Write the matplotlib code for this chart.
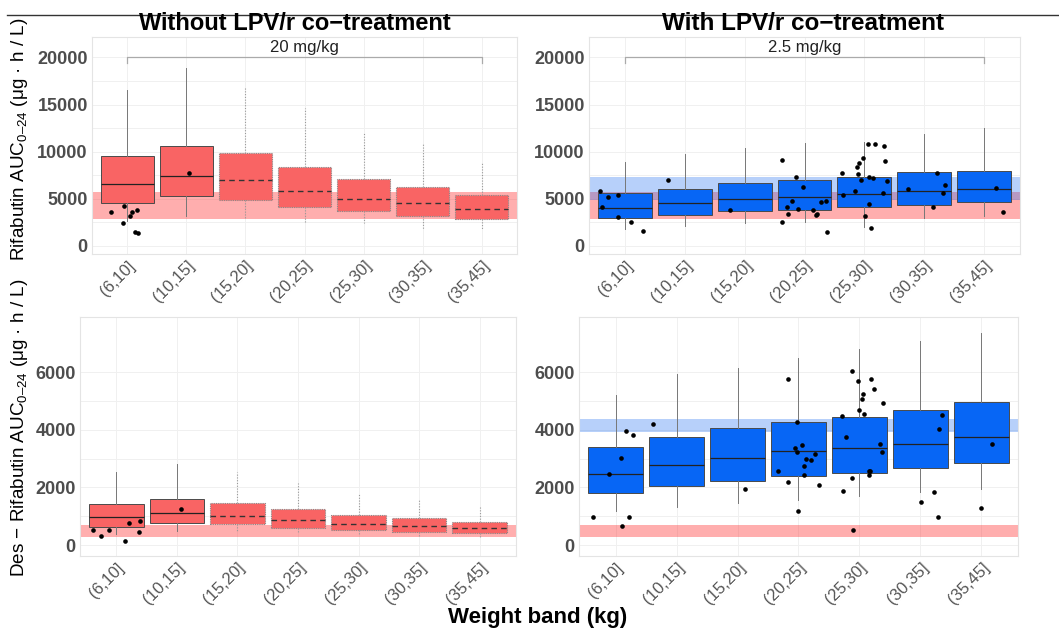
import matplotlib
matplotlib.use("Agg")
import matplotlib.pyplot as plt
from matplotlib.lines import Line2D

plt.rcParams['font.family'] = ['Liberation Sans', 'DejaVu Sans']
plt.rcParams['mathtext.fontset'] = 'custom'
plt.rcParams['mathtext.rm'] = 'Liberation Sans'

bands = ['(6,10]', '(10,15]', '(15,20]', '(20,25]', '(25,30]', '(30,35]', '(35,45]']

# rifabutin AUC, without LPV/r (20 mg/kg): q1, median, q3, whisker low, whisker high
rif_no_q1 = [4570, 5250, 4850, 4140, 3650, 3150, 2800]
rif_no_med = [6550, 7400, 6950, 5840, 4990, 4540, 3870]
rif_no_q3 = [9490, 10590, 9880, 8330, 7080, 6200, 5420]
rif_no_lo = [2650, 3150, 2910, 2520, 2380, 1800, 1800]
rif_no_hi = [16540, 18840, 16820, 14660, 12000, 10800, 8920]
rif_no_obs_x = [0.73, 0.94, 1.07, 1.05, 1.16, 0.93, 1.13, 1.18, 2.05]
rif_no_obs_y = [3550, 4250, 3550, 3120, 3760, 2380, 1490, 1380, 7690]

# rifabutin AUC, with LPV/r (2.5 mg/kg)
rif_lpv_q1 = [2910, 3290, 3650, 3820, 4140, 4320, 4610]
rif_lpv_med = [4040, 4500, 4930, 5170, 5490, 5810, 6020]
rif_lpv_q3 = [5570, 5990, 6630, 6980, 7260, 7800, 7970]
rif_lpv_lo = [1740, 2090, 2380, 2550, 1950, 2910, 3150]
rif_lpv_hi = [8890, 9710, 10340, 10880, 11050, 11830, 12470]
rif_lpv_obs_x = [0.59, 0.72, 0.62, 0.89, 0.89, 1.10, 1.30, 1.72, 2.76,
                 3.62, 3.85, 3.97, 3.79, 3.70, 3.72, 3.89, 4.14, 4.19, 4.21, 4.28, 4.36, 4.38, 3.62,
                 4.63, 4.88, 4.91, 4.98, 4.90, 4.95, 5.07, 5.14, 5.06, 5.17, 5.32, 5.35, 5.38,
                 4.84, 4.64, 5.31, 5.07, 5.01, 5.11,
                 5.73, 6.21, 6.35, 6.32, 6.15, 7.20, 7.32]
rif_lpv_obs_y = [5810, 5170, 4080, 5380, 3080, 2550, 1530, 6980, 3820,
                 9070, 7260, 6270, 4750, 4110, 3370, 3930, 3820, 3260, 3400, 4640, 4750, 1420, 2520,
                 7690, 8390, 8780, 9310, 7620, 6980, 7330, 7160, 10770, 10830, 10620, 9000, 6870,
                 5810, 5350, 5570, 4430, 3120, 1850,
                 5990, 7720, 6410, 5570, 4080, 6160, 3550]

# des-rifabutin AUC, without LPV/r
des_no_q1 = [640, 750, 720, 600, 520, 450, 405]
des_no_med = [960, 1100, 1010, 870, 740, 660, 580]
des_no_q3 = [1420, 1590, 1460, 1250, 1030, 930, 800]
des_no_lo = [400, 490, 440, 440, 340, 310, 270]
des_no_hi = [2550, 2810, 2550, 2140, 1820, 1590, 1330]
des_no_obs_x = [0.62, 0.75, 0.88, 1.21, 1.39, 1.38, 1.15, 2.07]
des_no_obs_y = [540, 300, 520, 760, 850, 440, 130, 1240]

# des-rifabutin AUC, with LPV/r
des_lpv_q1 = [1800, 2060, 2240, 2410, 2510, 2690, 2860]
des_lpv_med = [2470, 2770, 3020, 3280, 3370, 3510, 3750]
des_lpv_q3 = [3410, 3750, 4080, 4260, 4460, 4690, 4970]
des_lpv_lo = [1170, 1330, 1450, 1560, 1710, 1830, 1960]
des_lpv_hi = [5210, 5930, 6140, 6510, 6810, 7100, 7360]
des_lpv_obs_x = [0.63, 0.89, 1.09, 1.17, 1.28, 1.22, 1.11, 1.62, 3.12,
                 3.83, 3.98, 3.94, 4.06, 3.97, 4.09, 4.13, 4.20, 4.27, 4.09, 3.67, 3.83, 4.34, 3.99,
                 4.87, 4.98, 5.05, 5.04, 5.19, 5.24, 5.38, 5.00, 5.07, 4.72, 4.78, 5.33, 5.37,
                 5.16, 5.18, 5.15, 4.87, 4.73, 4.89,
                 6.36, 6.31, 6.23, 6.01, 6.29, 7.18, 7.00]
des_lpv_obs_y = [970, 2470, 3020, 3950, 3810, 960, 650, 4190, 1960,
                 5760, 4280, 3370, 3460, 3240, 2760, 2990, 2970, 3170, 2440, 2570, 2180, 2070, 1190,
                 6030, 5710, 5240, 5080, 5780, 5420, 4930, 4680, 4550, 4490, 3760, 3520, 3230,
                 2580, 2580, 2430, 2320, 1880, 510,
                 4530, 4040, 1840, 1490, 960, 3510, 1300]

# target exposure ranges
rif_target = (2840, 5670)
rif_lpv_ref = (4850, 7330)
des_target = (285, 710)
des_lpv_ref = (3940, 4370)

RED = '#F96464'
BLUE = '#0766F5'
W, H = 1059, 630

fig = plt.figure(figsize=(W / 100, H / 100), dpi=100)


def make_ax(left, right, top, bottom):
    return fig.add_axes([left / W, 1 - bottom / H, (right - left) / W, (bottom - top) / H])


def draw_panel(ax, q1, med, q3, lo, hi, ox, oy, color, dashed, ylim, yticks):
    for i in range(7):
        stats = [dict(med=med[i], q1=q1[i], q3=q3[i], whislo=lo[i], whishi=hi[i], fliers=[])]
        if dashed[i]:
            ax.bxp(stats, positions=[i + 1], widths=0.9, patch_artist=True, showcaps=False,
                   manage_ticks=False,
                   boxprops=dict(facecolor=color, edgecolor='#8A8A8A', linewidth=0.8, linestyle=(0, (1, 1))),
                   medianprops=dict(color='#333333', linewidth=1.0, linestyle=(0, (4, 3))),
                   whiskerprops=dict(color='#999999', linewidth=0.8, linestyle=(0, (1, 1.5))),
                   zorder=2)
        else:
            ax.bxp(stats, positions=[i + 1], widths=0.9, patch_artist=True, showcaps=False,
                   manage_ticks=False,
                   boxprops=dict(facecolor=color, edgecolor='#4A4A4A', linewidth=0.7),
                   medianprops=dict(color='#222222', linewidth=0.9),
                   whiskerprops=dict(color='#777777', linewidth=0.7),
                   zorder=2)
    ax.scatter(ox, oy, s=11, color='black', zorder=4, linewidths=0)

    ax.set_xlim(0.4, 7.6)
    ax.set_ylim(*ylim)
    for s in ax.spines.values():
        s.set_color('#E4E4E4')
        s.set_linewidth(0.8)
    ax.set_yticks(yticks)
    minor = [(a + b) / 2 for a, b in zip(yticks[:-1], yticks[1:])]
    ax.set_yticks(minor, minor=True)
    ax.set_xticks(range(1, 8))
    ax.set_xticklabels(bands, rotation=45, ha='right', rotation_mode='anchor',
                       fontsize=12, color='#555555')
    ax.set_yticklabels([str(t) for t in yticks], fontsize=13, fontweight='bold', color='#4D4D4D')
    ax.tick_params(length=0, pad=3)
    ax.tick_params(axis='y', which='minor', length=0)
    ax.grid(True, which='both', color='#F0F0F0', linewidth=0.7)
    ax.set_axisbelow(True)


def bracket(ax, label):
    ax.plot([1, 1, 7, 7], [19400, 20000, 20000, 19400], color='#AAAAAA', lw=0.9, zorder=3)
    ax.text(4, 20250, label, ha='center', va='bottom', fontsize=12, color='#222222')


no_dash = [False, False, True, True, True, True, True]
all_solid = [False] * 7

ax1 = make_ax(92, 517, 37, 254)
ax1.axhspan(*rif_target, color='#FF2020', alpha=0.36, lw=0, zorder=1)
draw_panel(ax1, rif_no_q1, rif_no_med, rif_no_q3, rif_no_lo, rif_no_hi,
           rif_no_obs_x, rif_no_obs_y, RED, no_dash, (-880, 22170), [0, 5000, 10000, 15000, 20000])
bracket(ax1, '20 mg/kg')

ax2 = make_ax(589, 1020, 37, 254)
ax2.axhspan(*rif_target, color='#FF2020', alpha=0.36, lw=0, zorder=1)
ax2.axhspan(*rif_lpv_ref, color='#1F6FF0', alpha=0.32, lw=0, zorder=1)
draw_panel(ax2, rif_lpv_q1, rif_lpv_med, rif_lpv_q3, rif_lpv_lo, rif_lpv_hi,
           rif_lpv_obs_x, rif_lpv_obs_y, BLUE, all_solid, (-880, 22170), [0, 5000, 10000, 15000, 20000])
bracket(ax2, '2.5 mg/kg')

ax3 = make_ax(80, 516, 317, 556)
ax3.axhspan(*des_target, color='#FF2020', alpha=0.36, lw=0, zorder=1)
draw_panel(ax3, des_no_q1, des_no_med, des_no_q3, des_no_lo, des_no_hi,
           des_no_obs_x, des_no_obs_y, RED, no_dash, (-380, 7920), [0, 2000, 4000, 6000])

ax4 = make_ax(579, 1018, 317, 556)
ax4.axhspan(*des_target, color='#FF2020', alpha=0.36, lw=0, zorder=1)
ax4.axhspan(*des_lpv_ref, color='#1F6FF0', alpha=0.32, lw=0, zorder=1)
draw_panel(ax4, des_lpv_q1, des_lpv_med, des_lpv_q3, des_lpv_lo, des_lpv_hi,
           des_lpv_obs_x, des_lpv_obs_y, BLUE, all_solid, (-380, 7920), [0, 2000, 4000, 6000])

# column titles, axis titles and the rule at the top
fig.text((92 + 517) / 2 / W - 10 / W, 1 - 23 / H, 'Without LPV/r co−treatment', ha='center', va='center',
         fontsize=17, fontweight='bold')
fig.text((589 + 1020) / 2 / W - 2 / W, 1 - 23 / H, 'With LPV/r co−treatment', ha='center', va='center',
         fontsize=17.5, fontweight='bold')
fig.text(20 / W, 1 - 139 / H, 'Rifabutin AUC$_{\\mathrm{0–24}}$ (μg · h / L)',
         rotation=90, ha='center', va='center', fontsize=13.6)
fig.text(20 / W, 1 - 428 / H, 'Des − Rifabutin AUC$_{\\mathrm{0–24}}$ (μg · h / L)',
         rotation=90, ha='center', va='center', fontsize=13.6)
fig.text(538 / W, 1 - 618 / H, 'Weight band (kg)', ha='center', va='center',
         fontsize=16, fontweight='bold')
fig.add_artist(Line2D([7 / W, 1], [1 - 15 / H, 1 - 15 / H], color='#333333', lw=1.0))

fig.savefig('out.png', dpi=100, facecolor='white')
